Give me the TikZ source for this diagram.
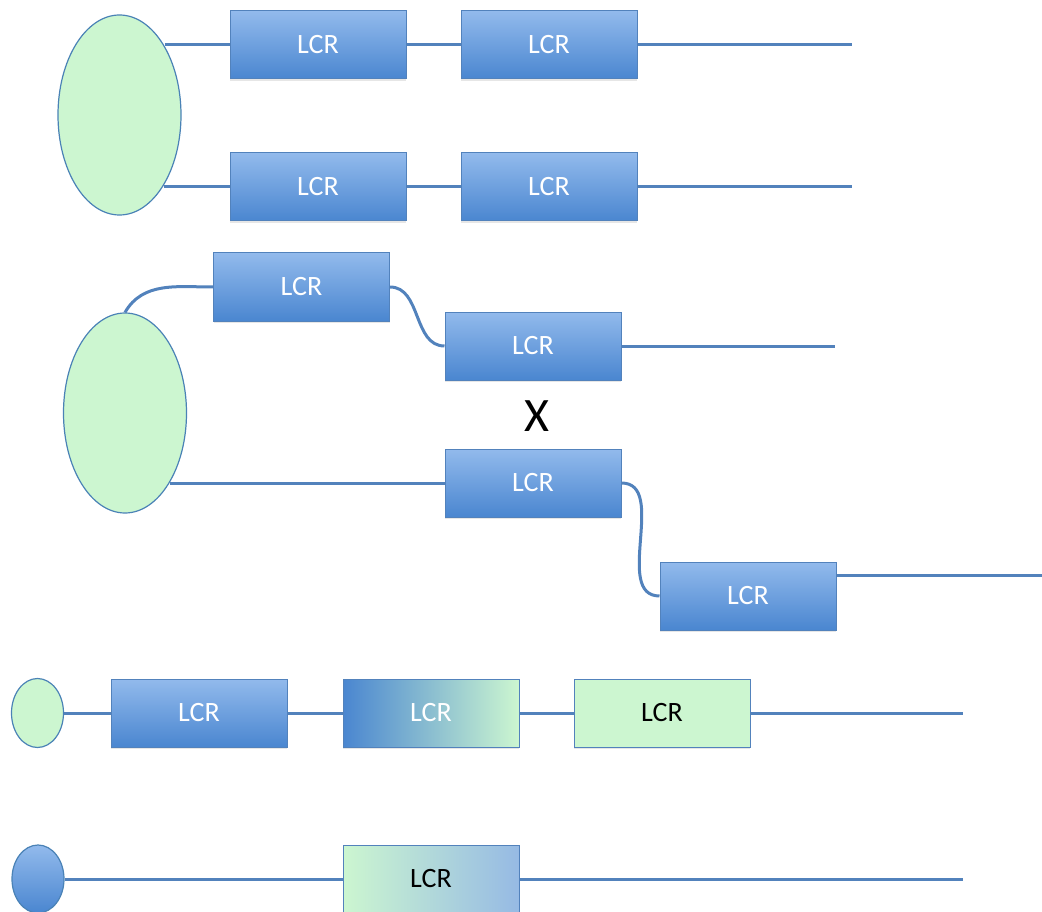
\documentclass[tikz,border=0pt]{standalone}
\usepackage{fontspec}
\setmainfont{Carlito}
\usetikzlibrary{shapes,shadows}
\definecolor{lcrblue}{RGB}{74,134,208}
\definecolor{lcrlight}{RGB}{146,186,236}
\definecolor{lcrline}{RGB}{82,130,188}
\definecolor{lcrgreen}{RGB}{204,246,208}
\definecolor{lcrpale}{RGB}{150,186,228}

\begin{document}
\begin{tikzpicture}[x = 1pt, y = 1pt,
  lcrbox/.style = {rectangle, draw = lcrline, line width = 1pt, minimum width = 176pt, minimum height = 68pt, inner sep = 0pt, font = \fontsize{28}{32}\selectfont, drop shadow = {opacity = 0.2, shadow xshift = 0pt, shadow yshift = -2pt}},
  bluebox/.style = {lcrbox, top color = lcrlight, bottom color = lcrblue, text = white},
  oval/.style = {ellipse, draw = lcrline!90!teal, line width = 1.2pt, fill = lcrgreen, inner sep = 0pt},
  wire/.style = {draw = lcrline, line width = 3pt}]
\useasboundingbox (0,0) rectangle (1042,-912);
\node[oval, minimum width = 123pt, minimum height = 200pt] (e1) at (119.5,-115) {};
\node[bluebox] (a1) at (318,-45) {LCR};
\node[bluebox] (a2) at (549,-45) {LCR};
\node[bluebox] (b1) at (318,-187) {LCR};
\node[bluebox] (b2) at (549,-187) {LCR};
\coordinate (r1) at (852,-45);
\coordinate (r2) at (852,-187);
\draw[wire] (e1.57 |- a1.west) -- (a1.west);
\draw[wire] (a1) -- (a2);
\draw[wire] (a2) -- (r1);
\draw[wire] (e1.-58 |- b1.west) -- (b1.west);
\draw[wire] (b1) -- (b2);
\draw[wire] (b2) -- (r2);
\node[oval, minimum width = 123pt, minimum height = 200pt] (e2) at (125,-413) {};
\node[bluebox] (c1) at (301.5,-287) {LCR};
\node[bluebox] (d1) at (533,-346) {LCR};
\node[font = \fontsize{48}{52}\selectfont] (x) at (537,-416) {X};
\node[bluebox] (d2) at (533,-483) {LCR};
\node[bluebox] (f1) at (748,-596) {LCR};
\coordinate (r3) at (835,-346);
\coordinate (r4) at (1042,-575);
\draw[wire] (e2.north) to[out = 60, in = 180] (c1.west);
\draw[wire] (c1.east) to[out = 0, in = 180] (d1.west);
\draw[wire] (d1) -- (r3);
\draw[wire] (e2.-57 |- d2.west) -- (d2.west);
\draw[wire] (d2.east) to[out = 0, in = 180] (f1.west);
\draw[wire] (f1.east |- r4) -- (r4);
\node[oval, minimum width = 52pt, minimum height = 69pt] (g) at (37.5,-713) {};
\node[bluebox] (g1) at (199,-713) {LCR};
\node[lcrbox, left color = lcrblue, right color = lcrgreen, text = white] (g2) at (431,-713) {LCR};
\node[lcrbox, fill = lcrgreen] (g3) at (662,-713) {LCR};
\coordinate (r5) at (963,-713);
\draw[wire] (g) -- (g1);
\draw[wire] (g1) -- (g2);
\draw[wire] (g2) -- (g3);
\draw[wire] (g3) -- (r5);
\node[oval, minimum width = 52pt, minimum height = 68pt, top color = lcrlight, bottom color = lcrblue] (h) at (38,-879) {};
\node[lcrbox, left color = lcrgreen, right color = lcrpale] (h1) at (431,-879) {LCR};
\coordinate (r6) at (963,-879);
\draw[wire] (h) -- (h1);
\draw[wire] (h1) -- (r6);
\end{tikzpicture}
\end{document}
